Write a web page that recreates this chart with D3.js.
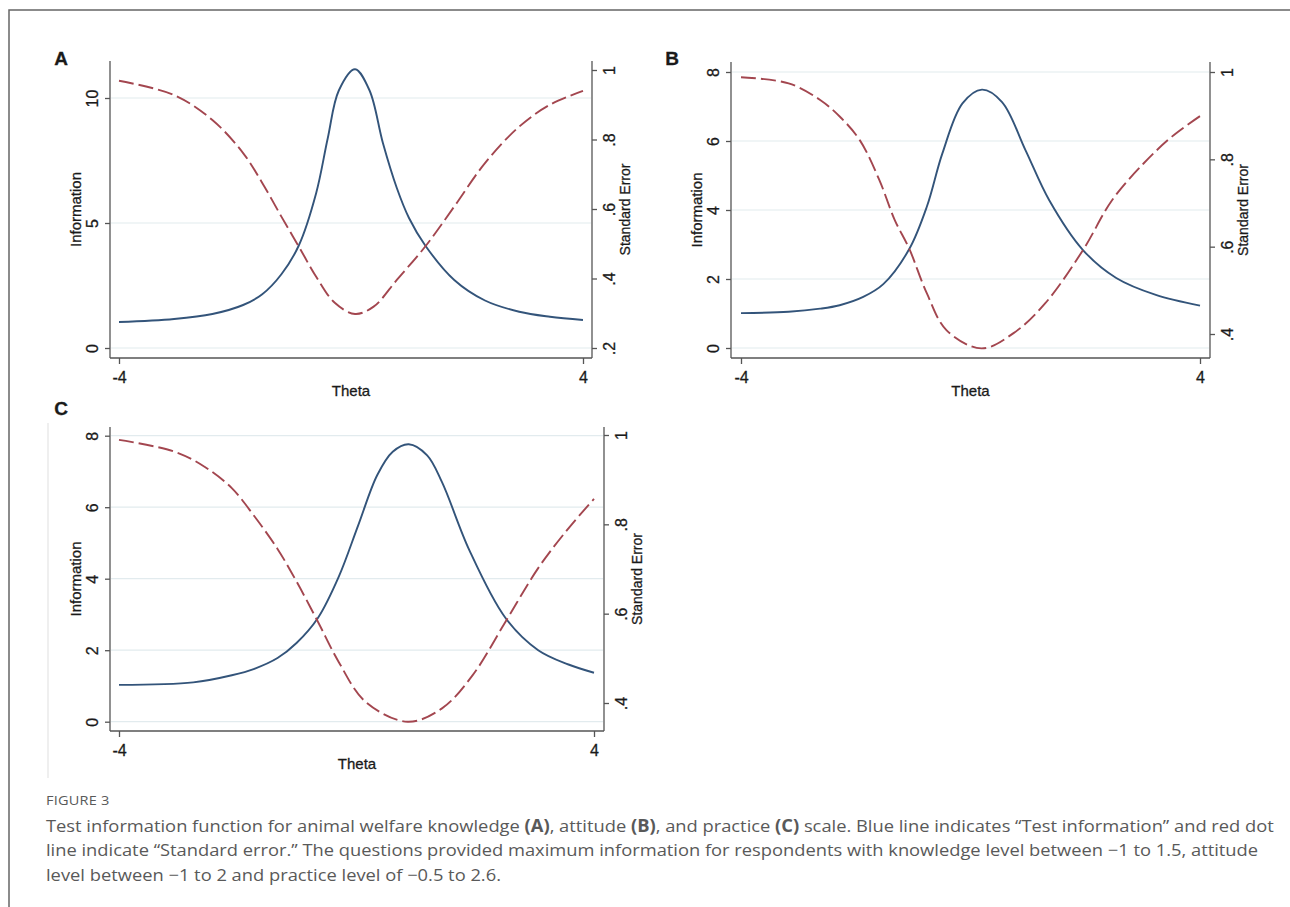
<!DOCTYPE html>
<html><head>
<meta charset="utf-8">
<script src="https://d3js.org/d3.v7.min.js"></script>
<style>
  body { margin: 0; background: #fff; }
  svg text { font-family: "Liberation Sans", Arial, sans-serif; fill: #1a1a1a; }
  .panel text { stroke: #1a1a1a; stroke-width: 0.3px; }
  .grid line { stroke: #e2ebee; stroke-width: 1.2; }
  .axis path, .axis line { stroke: #555; stroke-width: 1.3; }
  .caption text { font-family: "Open Sans", "Noto Sans", sans-serif; fill: #595959; }
</style>
</head>
<body>
<svg id="fig" width="1290" height="907"></svg>
<script>

// values (theta -> information / standard error)
const thetaInfoA = [-4, -3.05, -2.39, -1.86, -1.53, -1.2, -0.9, -0.6, -0.4, -0.21, 0.07, 0.32, 0.55, 0.79, 1.0, 1.28, 1.78, 2.31, 2.9, 3.43, 4];
const infoA      = [1.04, 1.16, 1.36, 1.72, 2.15, 2.95, 4.1, 6.2, 8.4, 10.3, 11.15, 10.3, 8.2, 6.4, 5.2, 4.1, 2.72, 1.9, 1.45, 1.25, 1.12];
const thetaSeA   = [-4, -3.05, -2.39, -1.86, -1.53, -1.2, -0.9, -0.6, -0.28, 0.07, 0.39, 0.79, 1.28, 1.78, 2.31, 2.9, 3.43, 4];
const seA        = [0.969, 0.928, 0.856, 0.761, 0.675, 0.578, 0.492, 0.405, 0.33, 0.298, 0.319, 0.396, 0.492, 0.607, 0.732, 0.837, 0.9, 0.94];

const thetaInfoB = [-4, -3.17, -2.62, -2.28, -1.87, -1.52, -1.07, -0.76, -0.49, -0.14, 0.2, 0.55, 0.96, 1.37, 1.96, 2.54, 3.23, 4];
const infoB      = [1.01, 1.05, 1.14, 1.24, 1.48, 1.85, 2.86, 4.1, 5.64, 7.09, 7.49, 7.13, 5.73, 4.29, 2.84, 2.03, 1.54, 1.23];
const thetaSeB   = [-4, -3.17, -2.62, -2.28, -1.93, -1.59, -1.32, -1.07, -0.76, -0.42, 0.19, 0.75, 1.3, 1.96, 2.47, 3.02, 3.51, 4];
const seB        = [0.988, 0.974, 0.936, 0.898, 0.844, 0.753, 0.661, 0.596, 0.493, 0.409, 0.367, 0.402, 0.47, 0.592, 0.707, 0.791, 0.852, 0.899];

const thetaInfoC = [-4, -2.75, -2.1, -1.72, -1.33, -1.01, -0.65, -0.3, 0.03, 0.35, 0.61, 0.88, 1.19, 1.44, 1.9, 2.51, 3.06, 3.57, 4];
const infoC      = [1.03, 1.1, 1.3, 1.48, 1.78, 2.2, 2.9, 4.05, 5.5, 6.9, 7.55, 7.76, 7.45, 6.7, 4.8, 2.9, 2.0, 1.6, 1.37];
const thetaSeC   = [-4, -3.07, -2.56, -2.1, -1.72, -1.33, -1.01, -0.65, -0.3, 0.15, 0.86, 1.44, 1.96, 2.51, 3.06, 3.57, 4];
const seC        = [0.989, 0.963, 0.929, 0.881, 0.818, 0.745, 0.672, 0.582, 0.492, 0.403, 0.358, 0.388, 0.463, 0.582, 0.702, 0.791, 0.857];

// tick labels
const thetaTicks = [-4, 4];
const infoTicksA = [0, 5, 10];
const infoTicksBC = [0, 2, 4, 6, 8];
const seTicksA = [0.2, 0.4, 0.6, 0.8, 1];
const seTicksBC = [0.4, 0.6, 0.8, 1];

const svg = d3.select("#fig");
svg.append("rect").attr("width", 1290).attr("height", 907).attr("fill", "#fff");

// outer frame (top and left edges visible)
svg.append("path").attr("d", "M9,907 V10 H1290")
   .attr("fill", "none").attr("stroke", "#666").attr("stroke-width", 1.5);

const panels = [
  { label: "A", lx: 61, ly: 65,
    left: 110, right: 592, top: 61, bottom: 358,
    xRange: [119, 583],
    infoDomain: [0, 10], infoRange: [348, 98], infoTicks: infoTicksA,
    seDomain: [0.2, 1], seRange: [348, 70], seTicks: seTicksA,
    thetaInfo: thetaInfoA, info: infoA, thetaSe: thetaSeA, se: seA },
  { label: "B", lx: 672, ly: 65,
    left: 731, right: 1210, top: 62, bottom: 358,
    xRange: [741, 1200],
    infoDomain: [0, 8], infoRange: [348, 72], infoTicks: infoTicksBC,
    seDomain: [0.4, 1], seRange: [334, 72], seTicks: seTicksBC,
    thetaInfo: thetaInfoB, info: infoB, thetaSe: thetaSeB, se: seB },
  { label: "C", lx: 61, ly: 415,
    left: 110, right: 604, top: 427, bottom: 731,
    xRange: [119, 594],
    infoDomain: [0, 8], infoRange: [721.7, 435.7], infoTicks: infoTicksBC,
    seDomain: [0.4, 1], seRange: [703, 435], seTicks: seTicksBC,
    thetaInfo: thetaInfoC, info: infoC, thetaSe: thetaSeC, se: seC }
];

// faint panel edge left of C
svg.append("line").attr("x1", 48).attr("x2", 48).attr("y1", 423).attr("y2", 778)
   .attr("stroke", "#e4e4e4").attr("stroke-width", 1.2);

const seFmt = d => d3.format(".1f")(d).replace(/^0/, "").replace(/\.0$/, "");
const thetaFmt = d => String(d);   // plain hyphen like the figure

panels.forEach(p => {
  const x = d3.scaleLinear().domain([-4, 4]).range(p.xRange);
  const yI = d3.scaleLinear().domain(p.infoDomain).range(p.infoRange);
  const yS = d3.scaleLinear().domain(p.seDomain).range(p.seRange);
  const g = svg.append("g").attr("class", "panel");

  // gridlines at information ticks
  g.append("g").attr("class", "grid")
    .selectAll("line").data(p.infoTicks).join("line")
    .attr("x1", p.left + 1).attr("x2", p.right - 1)
    .attr("y1", d => yI(d)).attr("y2", d => yI(d));

  // curves
  const infoPts = p.thetaInfo.map((t, i) => [t, p.info[i]]);
  const sePts = p.thetaSe.map((t, i) => [t, p.se[i]]);
  g.append("path")
    .attr("d", d3.line().x(d => x(d[0])).y(d => yI(d[1])).curve(d3.curveCatmullRom.alpha(0.5))(infoPts))
    .attr("fill", "none").attr("stroke", "#33547a").attr("stroke-width", 1.9);
  g.append("path")
    .attr("d", d3.line().x(d => x(d[0])).y(d => yS(d[1])).curve(d3.curveCatmullRom.alpha(0.5))(sePts))
    .attr("fill", "none").attr("stroke", "#a3464f").attr("stroke-width", 1.9)
    .attr("stroke-dasharray", "15,5");

  // left axis
  const la = g.append("g").attr("class", "axis").attr("transform", `translate(${p.left},0)`)
    .call(d3.axisLeft(yI).tickValues(p.infoTicks).tickSize(5).tickSizeOuter(0).tickFormat(d3.format("d")));
  la.select(".domain").attr("d", `M0,${p.top}V${p.bottom}`);
  la.selectAll("text").attr("x", null).attr("dy", null)
    .attr("transform", "translate(-12,0) rotate(-90)")
    .attr("text-anchor", "middle").style("font-size", "16px").attr("fill", "#1a1a1a");

  // right axis
  const ra = g.append("g").attr("class", "axis").attr("transform", `translate(${p.right},0)`)
    .call(d3.axisRight(yS).tickValues(p.seTicks).tickSize(5).tickSizeOuter(0).tickFormat(seFmt));
  ra.select(".domain").attr("d", `M0,${p.top}V${p.bottom}`);
  ra.selectAll("text").attr("x", null).attr("dy", null)
    .attr("transform", "translate(23,0) rotate(-90)")
    .attr("text-anchor", "middle").style("font-size", "16px").attr("fill", "#1a1a1a");

  // bottom axis
  const ba = g.append("g").attr("class", "axis").attr("transform", `translate(0,${p.bottom})`)
    .call(d3.axisBottom(x).tickValues(thetaTicks).tickSize(6).tickSizeOuter(0).tickFormat(thetaFmt));
  ba.select(".domain").attr("d", `M${p.left},0H${p.right}`);
  ba.selectAll("text").attr("y", 25).attr("dy", null)
    .style("font-size", "16px").attr("fill", "#1a1a1a");

  // axis titles
  const midY = (p.top + p.bottom) / 2;
  g.append("text").attr("transform", `translate(${p.left - 29},${midY}) rotate(-90)`)
    .attr("text-anchor", "middle").style("font-size", "15px").text("Information");
  g.append("text").attr("transform", `translate(${p.right + 38},${midY}) rotate(-90)`)
    .attr("text-anchor", "middle").style("font-size", "14px").text("Standard Error");
  g.append("text").attr("x", (p.left + p.right) / 2).attr("y", p.bottom + 38)
    .attr("text-anchor", "middle").style("font-size", "15px").text("Theta");

  // panel letter
  g.append("text").attr("x", p.lx).attr("y", p.ly).attr("text-anchor", "middle")
    .style("font-size", "19px").style("font-weight", "bold").attr("fill", "#000").text(p.label);
});

// caption (narrow face in the figure: squeeze horizontally to its width)
const cap = svg.append("g").attr("class", "caption");
cap.append("text").attr("x", 0).attr("y", 805).style("font-size", "13.5px")
   .style("letter-spacing", "0.2px").text("FIGURE 3");

const captionLines = [
  [["Test information function for animal welfare knowledge ", 0], ["(A)", 1], [", attitude ", 0], ["(B)", 1],
   [", and practice ", 0], ["(C)", 1], [" scale. Blue line indicates \u201cTest information\u201d and red dot", 0]],
  [["line indicate \u201cStandard error.\u201d The questions provided maximum information for respondents with knowledge level between \u22121 to 1.5, attitude", 0]],
  [["level between \u22121 to 2 and practice level of \u22120.5 to 2.6.", 0]]
];
const lineTexts = captionLines.map((parts, i) => {
  const t = cap.append("text").attr("x", 0).attr("y", 832 + i * 24.5).style("font-size", "17px");
  parts.forEach(([s, b]) => t.append("tspan").style("font-weight", b ? "700" : "400").text(s));
  return t;
});
const w0 = lineTexts[0].node().getComputedTextLength();
const sx = 1229 / w0;
cap.attr("transform", `translate(46,0) scale(${sx},1)`);

</script>
</body>
</html>
